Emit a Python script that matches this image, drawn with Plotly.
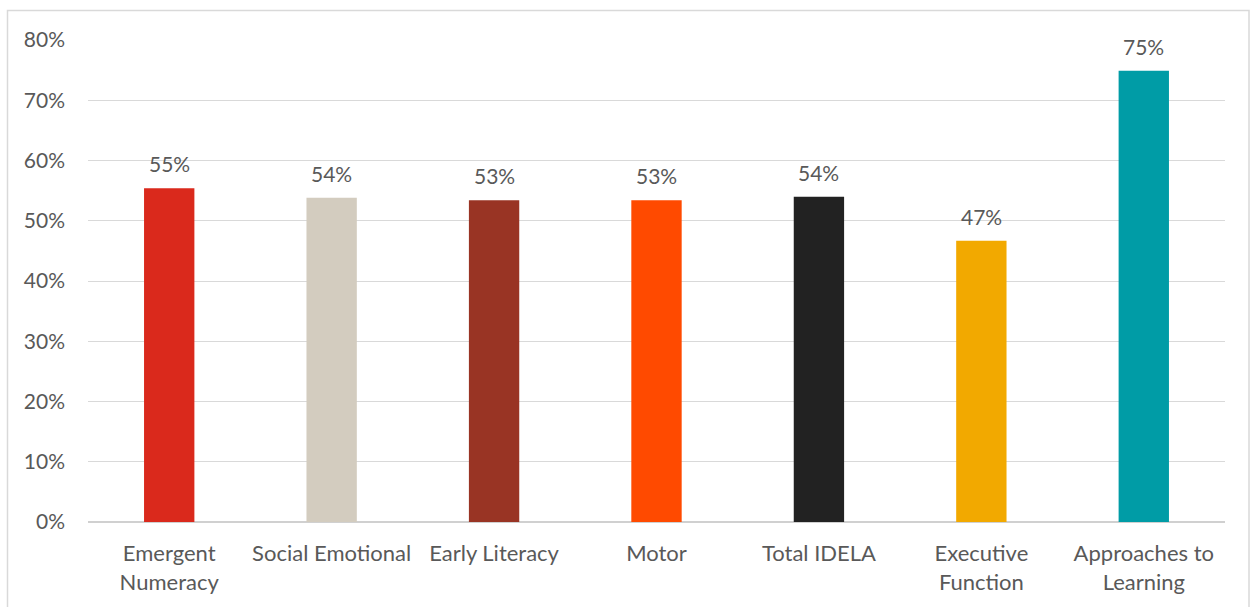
import plotly.graph_objects as go

categories = ["Emergent<br>Numeracy", "Social Emotional", "Early Literacy", "Motor",
              "Total IDELA", "Executive<br>Function", "Approaches to<br>Learning"]
scores = [0.554, 0.538, 0.534, 0.534, 0.540, 0.467, 0.749]
bar_colors = ["#DA291C", "#D3CCBF", "#993424", "#FF4A00", "#222222", "#F2A900", "#009CA6"]
y_ticks = [0, 0.1, 0.2, 0.3, 0.4, 0.5, 0.6, 0.7, 0.8]

FONT = "Lato, Open Sans, sans-serif"
GREY = "#595959"

W, H = 1250, 607
ml, mr, mt, mb = 88, 25, 40, 85
pw, ph = W - ml - mr, H - mt - mb

def px_x(x):
    return (x - ml) / pw

def px_y(y):
    return (H - mb - y) / ph

fig = go.Figure(go.Bar(
    x=categories,
    y=scores,
    marker=dict(color=bar_colors, line=dict(width=0)),
    width=0.31,
    cliponaxis=False,
))

# value labels above each bar
for cat, val in zip(categories, scores):
    fig.add_annotation(x=cat, y=val, text=f"{val:.0%}", showarrow=False,
                       yanchor="bottom", yshift=10,
                       font=dict(family=FONT, size=21, color=GREY))

fig.update_layout(
    width=W, height=H,
    margin=dict(l=ml, r=mr, t=mt, b=mb),
    paper_bgcolor="white", plot_bgcolor="white",
    showlegend=False,
    font=dict(family=FONT, size=21, color=GREY),
    xaxis=dict(showgrid=False, showline=False, ticks="", ticklabelstandoff=16,
               tickfont=dict(size=22, color=GREY)),
    yaxis=dict(range=[0, 0.8], tickvals=y_ticks, tickformat=".0%",
               showgrid=True, gridcolor="#D9D9D9", gridwidth=1,
               zeroline=True, zerolinecolor="#D0D0D0", zerolinewidth=2,
               showline=False, ticks="", ticklabelstandoff=22,
               tickfont=dict(size=21, color=GREY)),
    shapes=[dict(type="rect", xref="paper", yref="paper",
                 x0=px_x(7.5), x1=px_x(1249), y0=px_y(620), y1=px_y(10.5),
                 line=dict(color="#D9D9D9", width=1.5), layer="below")],
)

fig.write_html("out.html")
